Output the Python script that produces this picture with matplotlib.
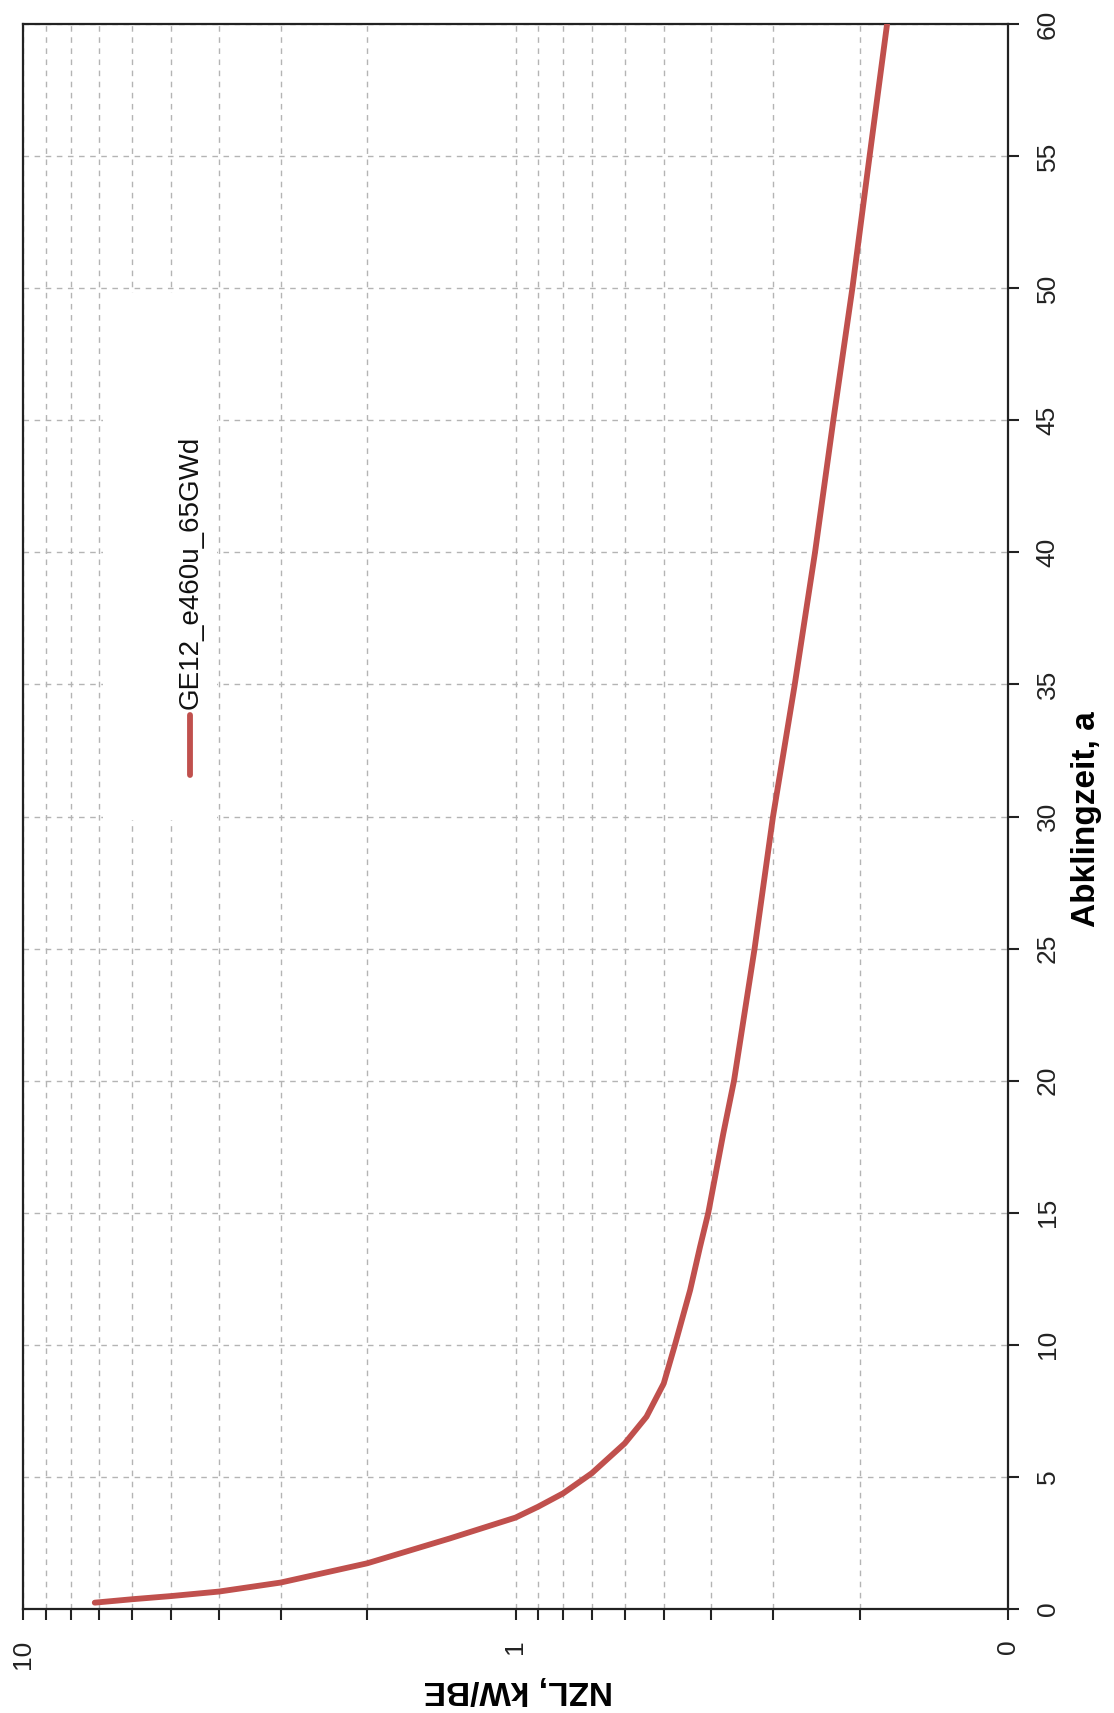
import matplotlib
matplotlib.use("Agg")
import matplotlib.pyplot as plt
from matplotlib.patches import Rectangle
from matplotlib.ticker import FixedLocator, FixedFormatter, NullFormatter

# Nachzerfallsleistung over Abklingzeit (chart is drawn rotated by 90 degrees)
years = [0.24, 0.37, 0.49, 0.66, 1.0, 1.73, 2.67, 3.46, 3.87, 4.38, 5.14, 6.27,
         7.28, 8.54, 10, 12.07, 13.71, 15, 18, 20, 25, 30, 35, 40, 45, 50, 55, 60]
nzl = [7.15, 6.0, 5.0, 4.0, 3.0, 2.0, 1.36, 1.0, 0.9, 0.8, 0.7, 0.6,
       0.542, 0.5, 0.4745, 0.442, 0.422, 0.406, 0.3785, 0.36, 0.327, 0.300,
       0.271, 0.2465, 0.2263, 0.207, 0.191, 0.176]

series_name = "GE12_e460u_65GWd"
nzl_ticks = [10, 1, 0.1]
nzl_ticklabels = ["10", "1", "0"]
year_ticks = list(range(0, 61, 5))

plt.rcParams['font.family'] = ['Liberation Sans', 'DejaVu Sans']

W, H = 1114, 1713
fig = plt.figure(figsize=(W / 100, H / 100), dpi=100)
# axes box in pixels: x 23..1008, y 24..1609
ax = fig.add_axes([23 / W, 1 - 1609 / H, 985 / W, 1585 / H])

ax.set_xscale('log')
ax.set_xlim(10, 0.1)
ax.set_ylim(0, 60)

ax.plot(nzl, years, color='#c0504d', lw=4.2, solid_capstyle='round',
        solid_joinstyle='round', zorder=3)

# grid
ax.xaxis.set_major_locator(FixedLocator(nzl_ticks))
ax.xaxis.set_major_formatter(FixedFormatter(nzl_ticklabels))
ax.xaxis.set_minor_formatter(NullFormatter())
ax.set_yticks(year_ticks)
ax.grid(True, which='both', axis='x', color='#b4b4b4', ls=(0, (4, 4)), lw=1)
ax.grid(True, which='major', axis='y', color='#b4b4b4', ls=(0, (4, 4)), lw=1)

ax.yaxis.tick_right()
for s in ax.spines.values():
    s.set_linewidth(1.6)
    s.set_color('#222222')

ax.tick_params(axis='x', which='both', direction='out', length=8, width=1.5,
               pad=14, labelsize=19, labelrotation=90, colors='#222222')
ax.tick_params(axis='y', which='major', direction='out', length=8, width=1.5,
               pad=12, labelsize=19, labelrotation=90, colors='#222222')
for lab in ax.get_yticklabels():
    lab.set_verticalalignment('center')

# legend drawn by hand, because the text is rotated
ax.add_patch(Rectangle((0.081, 0.498), 0.116, 0.332, transform=ax.transAxes,
                       facecolor='white', edgecolor='none', zorder=1.8))
ax.plot([0.1695, 0.1695], [0.526, 0.564], transform=ax.transAxes,
        color='#c0504d', lw=4.2, solid_capstyle='round', zorder=3)
ax.text(0.1705, 0.568, series_name, transform=ax.transAxes, rotation=90,
        ha='center', va='bottom', fontsize=20, color='#111111', zorder=4)

# axis titles
fig.text(1087 / W, 1 - 819 / H, "Abklingzeit, a", rotation=90, ha='center',
         va='center', fontsize=24, fontweight='bold')
fig.text(518 / W, 1 - 1690 / H, "NZL, kW/BE", rotation=180, ha='center',
         va='center', fontsize=24, fontweight='bold')

fig.savefig("out.png", dpi=100, facecolor='white')
